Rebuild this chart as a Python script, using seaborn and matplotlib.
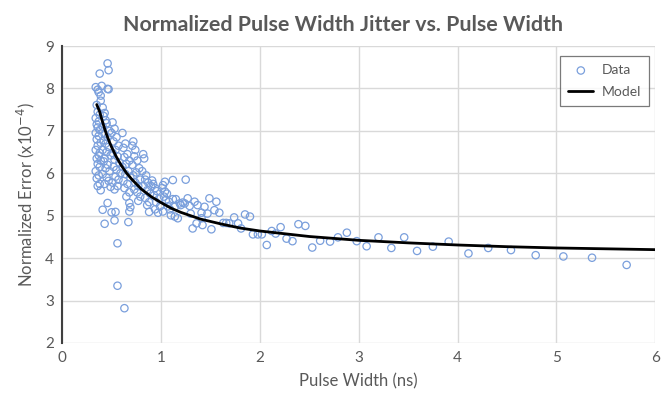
import matplotlib
matplotlib.use("Agg")
import matplotlib.pyplot as plt
import seaborn as sns
import pandas as pd

# Measured pulse widths (ns) and normalized jitter error (x1e-4)
pulse_width = [
    0.34, 0.36, 0.37, 0.39, 0.39, 0.35, 0.36, 0.38, 0.34, 0.37, 0.35, 0.36, 0.38, 0.34, 0.37, 0.35,
    0.39, 0.36, 0.34, 0.38, 0.37, 0.35, 0.39, 0.36, 0.38, 0.34, 0.37, 0.35, 0.38, 0.36, 0.39, 0.38,
    0.40, 0.46, 0.47, 0.41, 0.43, 0.42, 0.44, 0.45, 0.41, 0.48, 0.43, 0.46, 0.42, 0.44, 0.47, 0.41,
    0.45, 0.49, 0.43, 0.42, 0.46, 0.44, 0.48, 0.41, 0.45, 0.47, 0.43, 0.49, 0.46, 0.41, 0.43, 0.50,
    0.46, 0.47,
    0.51, 0.53, 0.50, 0.55, 0.52, 0.57, 0.54, 0.51, 0.56, 0.53, 0.58, 0.52, 0.55, 0.59, 0.54, 0.57,
    0.51, 0.56, 0.53, 0.54, 0.53, 0.56, 0.56,
    0.61, 0.64, 0.62, 0.66, 0.63, 0.68, 0.65, 0.61, 0.67, 0.64, 0.69, 0.62, 0.66, 0.63, 0.68, 0.65,
    0.68, 0.69, 0.68, 0.67, 0.63,
    0.72, 0.71, 0.74, 0.73, 0.76, 0.71, 0.78, 0.75, 0.72, 0.79, 0.74, 0.77, 0.73, 0.76, 0.79, 0.77,
    0.82, 0.83, 0.81, 0.85, 0.84, 0.87, 0.82, 0.86, 0.89, 0.84, 0.88, 0.86, 0.88, 0.91,
    0.92, 0.94, 0.96, 0.93, 0.98, 0.95, 0.99, 0.94, 0.97, 0.90,
    1.12, 1.25, 1.04, 1.04, 1.05, 1.08, 1.12, 1.15, 1.20, 1.22, 1.27, 1.29, 1.34, 1.37, 1.41, 1.44,
    1.49, 1.56, 1.54, 1.59, 1.47, 1.14, 1.17, 1.10, 1.30, 1.36, 1.32, 1.41, 1.42, 1.51, 1.63, 1.66,
    1.69, 1.74, 1.78, 1.81, 1.85, 1.90, 1.93, 1.98, 1.14, 1.24, 1.19, 1.02, 1.01, 1.06, 1.03, 1.07,
    1.09, 1.02,
    2.02, 2.07, 2.12, 2.16, 2.21, 2.27, 2.33, 2.39, 2.46, 2.53, 2.61, 2.71, 2.79, 2.88, 2.98, 3.08,
    3.20, 3.33, 3.46, 3.59, 3.75, 3.91, 4.11, 4.31, 4.54, 4.79, 5.07, 5.36, 5.71,
]
norm_error = [
    8.03, 7.97, 7.91, 7.83, 7.71, 7.61, 7.45, 7.38, 7.30, 7.22, 7.15, 7.08, 7.02, 6.95, 6.88, 6.80,
    6.72, 6.65, 6.55, 6.48, 6.42, 6.35, 6.30, 6.22, 6.15, 6.05, 5.95, 5.88, 5.75, 5.70, 5.60, 8.35,
    8.06, 7.99, 7.98, 7.55, 7.42, 7.35, 7.25, 7.18, 7.10, 7.00, 6.92, 6.85, 6.78, 6.70, 6.62, 6.55,
    6.50, 6.42, 6.35, 6.28, 6.20, 6.12, 6.05, 5.98, 5.90, 5.82, 5.75, 5.68, 5.30, 5.14, 4.81, 5.08,
    8.59, 8.43,
    7.20, 7.05, 6.95, 6.85, 6.75, 6.65, 6.55, 6.48, 6.40, 6.32, 6.25, 6.15, 6.08, 6.00, 5.92, 5.85,
    5.78, 5.70, 5.62, 5.09, 4.89, 4.35, 3.35,
    6.95, 6.70, 6.60, 6.45, 6.38, 6.30, 6.22, 6.15, 6.05, 5.98, 5.90, 5.82, 5.75, 5.65, 5.55, 5.45,
    5.30, 5.20, 5.10, 4.85, 2.82,
    6.75, 6.65, 6.55, 6.40, 6.30, 6.20, 6.12, 6.02, 5.95, 5.85, 5.78, 5.70, 5.62, 5.55, 5.45, 5.35,
    6.45, 6.35, 6.05, 5.95, 5.85, 5.78, 5.70, 5.60, 5.52, 5.42, 5.32, 5.25, 5.09, 5.83,
    5.75, 5.65, 5.58, 5.48, 5.40, 5.32, 5.22, 5.15, 5.07, 5.70,
    5.84, 5.85, 5.80, 5.57, 5.37, 5.33, 5.39, 5.39, 5.25, 5.31, 5.41, 5.23, 5.33, 5.25, 5.07, 5.21,
    5.41, 5.33, 5.13, 5.07, 5.05, 4.98, 4.94, 5.01, 5.05, 4.82, 4.70, 4.94, 4.78, 4.68, 4.83, 4.83,
    4.82, 4.96, 4.82, 4.70, 5.03, 4.98, 4.56, 4.56, 5.21, 5.29, 5.29, 5.72, 5.65, 5.52, 5.45, 5.22,
    5.15, 5.10,
    4.56, 4.31, 4.64, 4.58, 4.73, 4.46, 4.40, 4.80, 4.76, 4.25, 4.41, 4.39, 4.49, 4.60, 4.40, 4.28,
    4.49, 4.24, 4.49, 4.17, 4.27, 4.39, 4.11, 4.24, 4.19, 4.07, 4.04, 4.01, 3.84,
]

# Fitted model curve
model_width = [0.35, 0.38, 0.40, 0.43, 0.45, 0.48, 0.50, 0.55, 0.60, 0.65, 0.70, 0.80, 0.90, 1.00,
               1.10, 1.20, 1.40, 1.60, 1.80, 2.00, 2.50, 3.00, 3.50, 4.00, 4.50, 5.00, 5.50, 6.00]
model_error = [7.62, 7.45, 7.28, 7.05, 6.91, 6.73, 6.62, 6.38, 6.18, 6.01, 5.87, 5.63, 5.45, 5.31,
               5.18, 5.08, 4.92, 4.81, 4.71, 4.64, 4.51, 4.42, 4.36, 4.31, 4.27, 4.24, 4.22, 4.20]

x_ticks = [0, 1, 2, 3, 4, 5, 6]
y_ticks = [2, 3, 4, 5, 6, 7, 8, 9]

sns.set_theme(style="white")
plt.rcParams["font.family"] = ["Lato", "DejaVu Sans"]

TEXT = "#595959"
GRID = "#d9d9d9"

data = pd.DataFrame({"width": pulse_width, "error": norm_error})
model = pd.DataFrame({"width": model_width, "error": model_error})

fig = plt.figure(figsize=(6.68, 4.0), dpi=100)
ax = fig.add_axes([0.093, 0.1425, 0.888, 0.7425])

sns.scatterplot(data=data, x="width", y="error", ax=ax, marker="o", s=28,
                facecolor="none", edgecolor="#7a9fdc", linewidth=0.9, label="Data", zorder=3)
sns.lineplot(data=model, x="width", y="error", ax=ax, color="black", linewidth=2.0,
             label="Model", zorder=4, sort=True)

ax.set_xlim(0, 6)
ax.set_ylim(2, 9)
ax.set_xticks(x_ticks)
ax.set_yticks(y_ticks)
ax.set_xticklabels([str(v) for v in x_ticks])
ax.set_yticklabels([str(v) for v in y_ticks])
ax.grid(True, color=GRID, linewidth=1.0)
ax.set_axisbelow(True)
ax.tick_params(axis="both", length=0, labelsize=11, colors=TEXT, pad=6)

for side in ("top", "right", "bottom"):
    ax.spines[side].set_visible(False)
ax.spines["left"].set_color("#404040")
ax.spines["left"].set_linewidth(1.5)

ax.set_xlabel("Pulse Width (ns)", fontsize=12, color=TEXT, labelpad=6)
ax.set_ylabel(r"Normalized Error (x10$^{-4}$)", fontsize=12, color=TEXT, labelpad=6)
fig.text(0.513, 0.9375, "Normalized Pulse Width Jitter vs. Pulse Width", fontsize=15.4,
         fontweight="bold", color=TEXT, ha="center", va="center")

leg = ax.legend(loc="upper right", bbox_to_anchor=(0.99, 0.967), frameon=True,
                fancybox=False, fontsize=10, borderpad=0.6, labelspacing=0.7,
                handlelength=1.8, handletextpad=0.6, borderaxespad=0)
leg.get_frame().set_edgecolor("#595959")
leg.get_frame().set_linewidth(0.9)
for t in leg.get_texts():
    t.set_color(TEXT)

fig.savefig("out.png", dpi=100)
